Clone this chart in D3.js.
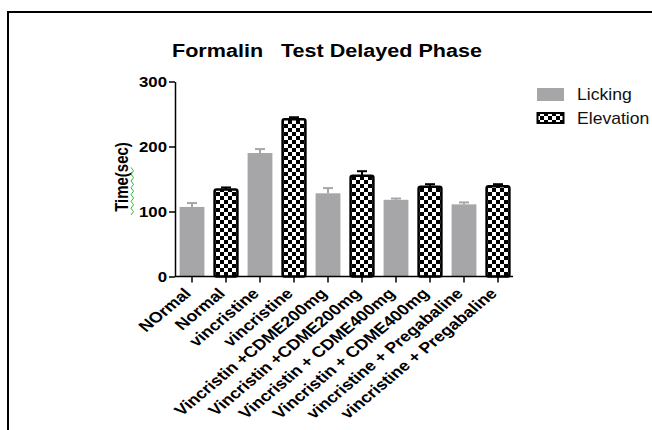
<!DOCTYPE html>
<html><head><meta charset="utf-8">
<script src="https://cdn.jsdelivr.net/npm/d3@7"></script>
<style>body{margin:0;background:#fff}svg{display:block}text{font-family:Arial,"Liberation Sans",sans-serif}</style>
</head><body><svg id="c" width="652" height="430"></svg>
<script>
const barLabels = ["NOrmal","Normal","vincristine","vincristine","Vincristin +CDME200mg","Vincristin +CDME200mg","Vincristin + CDME400mg","Vincristin + CDME400mg","vincristine + Pregabaline","vincristine + Pregabaline"];
const barSeries = ["Licking","Elevation","Licking","Elevation","Licking","Elevation","Licking","Elevation","Licking","Elevation"];
const barValues = [107,134,190,242,128,155,118,138,111,139];
const barErrors = [6,3,6,3,8,7,2,4,3,3];
const seriesNames = ["Licking","Elevation"];
const yTicks = [0,100,200,300];

const SX = 1.2; // horizontal stretch of text in the reference image
const svg = d3.select("#c");
const defs = svg.append("defs");
const pat = defs.append("pattern").attr("id","chk").attr("patternUnits","userSpaceOnUse")
  .attr("width",8).attr("height",8);
pat.append("rect").attr("width",8).attr("height",8).attr("fill","#fff");
pat.append("rect").attr("width",4).attr("height",4).attr("fill","#000");
pat.append("rect").attr("x",4).attr("y",4).attr("width",4).attr("height",4).attr("fill","#000");

// frame
svg.append("rect").attr("x",8).attr("y",12).attr("width",700).attr("height",500)
  .attr("fill","none").attr("stroke","#000").attr("stroke-width",2);

const x = d3.scaleBand().domain(d3.range(barLabels.length)).range([175,515]).paddingInner(0.27).paddingOuter(0.135);
const y = d3.scaleLinear().domain([0,300]).range([276.5,81.5]);

const fillFor = s => s==="Licking" ? "#a6a6a8" : "url(#chk)";

// error bars
const eg = svg.append("g");
barValues.forEach((v,i)=>{
  const cx = x(i)+x.bandwidth()/2;
  const col = barSeries[i]==="Licking" ? "#a6a6a8" : "#000";
  eg.append("line").attr("x1",cx).attr("x2",cx).attr("y1",y(v)).attr("y2",y(v+barErrors[i]))
    .attr("stroke",col).attr("stroke-width",2);
  eg.append("line").attr("x1",cx-5).attr("x2",cx+5).attr("y1",y(v+barErrors[i])).attr("y2",y(v+barErrors[i]))
    .attr("stroke",col).attr("stroke-width",2);
});

// bars
svg.append("g").selectAll("rect").data(barValues).join("rect")
  .attr("x",(d,i)=> barSeries[i]==="Licking" ? x(i) : x(i)+1)
  .attr("width",(d,i)=> barSeries[i]==="Licking" ? x.bandwidth() : x.bandwidth()-2)
  .attr("y",d=>y(d)).attr("height",d=>y(0)-y(d))
  .attr("fill",(d,i)=>fillFor(barSeries[i]))
  .attr("stroke",(d,i)=> barSeries[i]==="Licking" ? "none" : "#000")
  .attr("stroke-width",2.5).attr("rx",(d,i)=> barSeries[i]==="Licking" ? 0 : 2);

// y axis
const ya = svg.append("g").attr("transform","translate(175,0)")
  .call(d3.axisLeft(y).tickValues(yTicks).tickSize(6).tickSizeOuter(0).tickFormat(d3.format("d")));
ya.select(".domain").attr("stroke","#000").attr("stroke-width",1.5);
ya.selectAll(".tick line").attr("stroke","#000").attr("stroke-width",1.5);
ya.selectAll(".tick text").attr("font-size",14).attr("font-weight","bold").attr("fill","#000")
  .attr("font-family","Arial,'Liberation Sans',sans-serif")
  .attr("x",-8/SX).attr("dy","0.36em").attr("transform",`scale(${SX},1)`);

// x axis
const xa = svg.append("g").attr("transform","translate(0,276.5)")
  .call(d3.axisBottom(x).tickSize(6).tickSizeOuter(0).tickFormat(i=>barLabels[i]));
xa.select(".domain").attr("stroke","#000").attr("stroke-width",1.5).attr("d","M175,0H513");
xa.selectAll(".tick line").attr("stroke","#000").attr("stroke-width",1.5);
xa.selectAll(".tick text").attr("font-size",15).attr("font-weight","bold").attr("fill","#000")
  .attr("font-family","Arial,'Liberation Sans',sans-serif")
  .attr("text-anchor","end").attr("dy",0).attr("y",0)
  .attr("transform",`translate(0,18) scale(${SX},1) rotate(-45)`);

// y title
svg.append("text").attr("transform",`translate(128,177) scale(${SX},1) rotate(-90)`)
  .attr("text-anchor","middle").attr("font-size",15).attr("font-weight","bold").text("Time(sec)");
// spell-check squiggle
let sq = "M131,215";
for (let k=0;k<14;k++){ sq += " L" + (k%2? 131:133.5) + "," + (215-(k+1)*3.4); }
svg.append("path").attr("d",sq).attr("fill","none").attr("stroke","#3cb43c").attr("stroke-width",1);

// title
svg.append("text").attr("x",172).attr("y",57).attr("font-size",18).attr("font-weight","bold")
  .attr("xml:space","preserve").attr("textLength",310).attr("lengthAdjust","spacingAndGlyphs")
  .text("Formalin   Test Delayed Phase");

// legend
const lg = svg.append("g");
seriesNames.forEach((s,i)=>{
  const ly = 88 + i*24;
  lg.append("rect").attr("x", s==="Licking"?537:537.5).attr("y", s==="Licking"?ly:ly+1)
    .attr("width", s==="Licking"?27:26).attr("height", s==="Licking"?13:10)
    .attr("fill", fillFor(s)).attr("stroke", s==="Licking"?"none":"#000").attr("stroke-width",2);
  lg.append("text").attr("transform",`translate(577,${ly+11.5}) scale(1.1,1)`)
    .attr("font-size",16).attr("fill","#111").text(s);
});
</script></body></html>
